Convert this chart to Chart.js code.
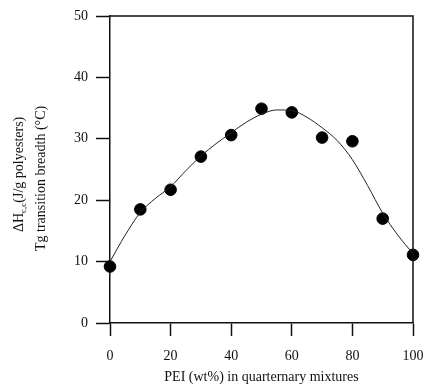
<!DOCTYPE html>
<html>
<head>
<meta charset="utf-8">
<script src="https://cdn.jsdelivr.net/npm/chart.js@4"></script>
<style>
  html, body { margin: 0; padding: 0; background: #fff; }
  #wrap { width: 426px; height: 386px; }
</style>
</head>
<body>
<div id="wrap"><canvas id="chart" width="426" height="386"></canvas></div>
<script>
// measured points
const peiPoints = [0, 10, 20, 30, 40, 50, 60, 70, 80, 90, 100];
const breadthPoints = [9.2, 18.5, 21.7, 27.1, 30.6, 34.9, 34.3, 30.2, 29.6, 17.0, 11.1];

// fitted curve
const peiCurve = [0, 5, 10, 15, 20, 25, 30, 35, 40, 45, 50, 55, 60, 65, 70, 75, 80, 85, 90, 95, 100];
const breadthCurve = [10.0, 14.3, 18.0, 20.3, 22.2, 24.8, 27.2, 29.2, 31.0, 32.7, 34.0, 34.7, 34.6, 33.5, 31.8, 29.7, 26.6, 22.4, 17.9, 14.3, 11.3];

const yTicks = [0, 10, 20, 30, 40, 50];
const xTicks = [0, 20, 40, 60, 80, 100];

const serif = '"Liberation Serif", "DejaVu Serif", serif';
const ink = '#111';

// frame on top and right + two-line y title
const framePlugin = {
    id: 'frame',
    afterDraw(chart) {
        const { ctx, chartArea } = chart;
        ctx.save();
        ctx.strokeStyle = ink;
        ctx.lineWidth = 1.5;
        ctx.beginPath();
        ctx.moveTo(chartArea.left, chartArea.top);
        ctx.lineTo(chartArea.right, chartArea.top);
        ctx.lineTo(chartArea.right, chartArea.bottom);
        ctx.stroke();

        ctx.fillStyle = ink;
        ctx.textBaseline = 'middle';
        ctx.textAlign = 'left';

        // line 1: ΔH c,c (J/g polyesters)
        ctx.save();
        ctx.translate(19, 232);
        ctx.rotate(-Math.PI / 2);
        ctx.font = '14px ' + serif;
        ctx.fillText('ΔH', 0, 0);
        let w = ctx.measureText('ΔH').width;
        ctx.font = '9px ' + serif;
        ctx.fillText('c,c', w, 5);
        w += ctx.measureText('c,c').width;
        ctx.font = '14px ' + serif;
        ctx.fillText('(J/g polyesters)', w, 0);
        ctx.restore();

        // line 2
        ctx.save();
        ctx.translate(41, 251);
        ctx.rotate(-Math.PI / 2);
        ctx.font = '14px ' + serif;
        ctx.fillText('Tg transition breadth (°C)', 0, 0);
        ctx.restore();

        ctx.restore();
    }
};

new Chart(document.getElementById('chart'), {
    type: 'scatter',
    data: {
        datasets: [
            {
                type: 'line',
                data: peiCurve.map((x, i) => ({ x: x, y: breadthCurve[i] })),
                borderColor: '#222',
                borderWidth: 1,
                pointRadius: 0,
                tension: 0.4,
                cubicInterpolationMode: 'monotone',
                fill: false
            },
            {
                data: peiPoints.map((x, i) => ({ x: x, y: breadthPoints[i] })),
                backgroundColor: '#000',
                borderColor: '#000',
                pointRadius: 5.8,
                clip: false
            }
        ]
    },
    options: {
        responsive: false,
        animation: false,
        layout: { padding: { top: 16, right: 13, left: 0, bottom: 0 } },
        plugins: {
            legend: { display: false },
            tooltip: { enabled: false }
        },
        scales: {
            x: {
                type: 'linear',
                min: 0,
                max: 100,
                afterBuildTicks: s => { s.ticks = xTicks.map(v => ({ value: v })); },
                afterFit: s => { s.height = 63; s.paddingLeft = 0; s.paddingRight = 0; },
                ticks: {
                    color: ink,
                    font: { family: serif, size: 14 },
                    padding: 12,
                    maxRotation: 0
                },
                grid: {
                    drawOnChartArea: false,
                    tickLength: 13,
                    tickColor: ink,
                    tickWidth: 1.5
                },
                border: { color: ink, width: 1.5 },
                title: {
                    display: true,
                    text: 'PEI (wt%) in quarternary mixtures',
                    color: ink,
                    font: { family: serif, size: 14 },
                    padding: { top: 0, bottom: 0 }
                }
            },
            y: {
                type: 'linear',
                min: 0,
                max: 50,
                afterBuildTicks: s => { s.ticks = yTicks.map(v => ({ value: v })); },
                afterFit: s => { s.width = 110; s.paddingTop = 0; s.paddingBottom = 0; },
                ticks: {
                    color: ink,
                    font: { family: serif, size: 14 },
                    padding: 8
                },
                grid: {
                    drawOnChartArea: false,
                    tickLength: 14,
                    tickColor: ink,
                    tickWidth: 1.5
                },
                border: { color: ink, width: 1.5 }
            }
        }
    },
    plugins: [framePlugin]
});
</script>
</body>
</html>
